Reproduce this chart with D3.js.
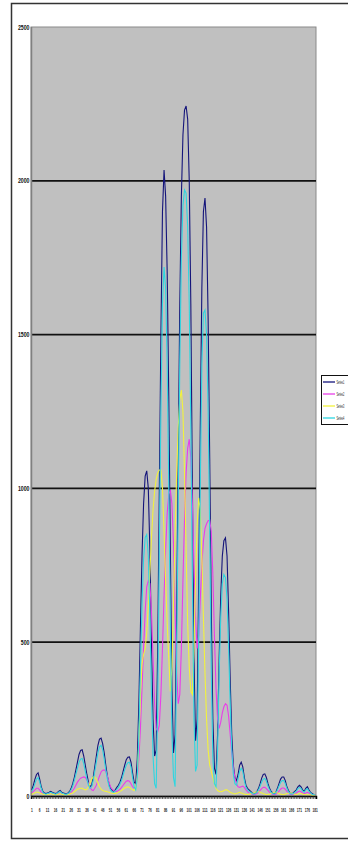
<!DOCTYPE html>
<html><head><meta charset="utf-8">
<script src="https://cdn.jsdelivr.net/npm/d3@7/dist/d3.min.js"></script>
<style>html,body{margin:0;padding:0;background:#fff;overflow:hidden}</style>
</head><body><svg id="c" width="348" height="842"></svg>
<script>
const categories = d3.range(1, 182);
const yTicks = [0, 500, 1000, 1500, 2000, 2500];
const seriesNames = ["Series1", "Series2", "Series3", "Series4"];
const seriesColors = ["#14147a", "#e83ee8", "#f2f23c", "#2ed6e0"];

const series1 = [20,35,55,70,75,55,30,15,10,8,
10,12,15,12,10,8,10,15,18,12,
10,8,6,10,15,25,40,60,85,110,135,148,
150,130,100,70,45,30,35,60,
95,130,165,185,188,170,140,100,65,40,25,18,
15,20,28,35,45,60,80,100,118,126,127,110,75,45,
40,120,300,550,780,950,1040,1057,1000,800,500,250,130,150,
500,1000,1500,1900,2035,1950,1700,1300,800,350,140,200,
600,1100,1600,1950,2150,2230,2243,2200,2000,1600,1000,450,
180,250,700,1200,1650,1900,1944,1850,1550,1100,600,250,
90,70,200,450,650,780,830,839,780,600,380,200,
100,60,50,70,100,110,95,60,35,25,20,15,
10,8,10,15,25,40,58,70,72,60,40,25,
15,10,8,12,25,40,55,62,62,50,30,18,
10,8,10,15,20,30,35,30,20,15,25,30,
20,12,8,5,5];

const series2 = [10,15,20,25,25,20,12,8,5,5,
6,8,10,8,6,5,6,8,10,8,
6,5,5,6,8,12,18,25,35,45,52,58,
60,62,60,52,40,28,20,18,
25,35,50,65,78,84,85,80,65,45,30,22,
18,15,15,18,22,28,35,42,48,50,48,40,30,25,
30,60,120,220,350,480,600,680,700,690,600,450,300,220,
210,230,330,480,650,800,920,980,995,950,820,600,
400,300,330,480,700,900,1050,1130,1160,1100,950,750,
580,480,520,640,750,830,870,885,895,897,860,720,
520,350,250,220,240,270,290,300,295,260,200,140,
90,60,40,30,28,30,32,28,20,14,10,8,
6,5,6,8,12,18,24,28,28,24,18,12,
8,6,5,6,10,16,22,26,26,22,15,10,
6,5,6,8,10,14,16,14,10,8,10,12,
10,6,5,4,4];

const series3 = [5,8,10,12,12,10,8,6,5,5,
5,6,8,6,5,4,5,6,8,6,
5,4,4,5,6,8,10,14,18,22,24,25,
25,22,20,22,30,42,55,62,
62,55,42,30,22,18,16,15,14,12,10,9,
8,8,10,12,15,18,22,26,28,30,28,24,20,18,
30,60,180,330,430,460,480,530,620,730,840,930,990,1030,
1050,1060,1060,1000,860,700,560,450,340,420,620,850,
1050,1200,1290,1320,1250,1050,800,560,420,340,330,480,
700,880,969,930,780,580,400,250,150,100,80,60,
40,25,18,15,14,15,18,20,20,16,12,10,
8,7,8,10,12,10,8,6,5,5,6,7,
8,10,12,14,14,12,10,8,6,5,5,6,
8,10,12,12,10,8,6,5,5,6,8,9,
10,9,8,6,5,6,8,8,6,5,4,4,
4,4,3,3,3];

const series4 = [15,25,40,55,60,45,25,12,8,6,
8,10,12,10,8,6,8,12,14,10,
8,6,5,8,12,20,32,50,70,90,110,120,
122,105,80,55,35,25,30,50,
80,110,140,160,165,150,120,85,55,32,20,14,
12,16,22,28,38,50,68,85,100,108,110,95,60,30,
20,60,200,420,620,770,840,850,780,580,330,130,40,25,
300,800,1250,1600,1720,1650,1400,1000,550,200,60,30,
450,950,1400,1750,1920,1970,1960,1850,1600,1200,700,250,
80,100,500,1000,1400,1570,1580,1500,1250,850,400,120,
40,30,150,400,580,690,720,710,640,480,300,150,
70,40,35,55,80,90,80,50,28,20,15,12,
8,6,8,12,20,32,45,55,57,48,32,20,
12,8,6,10,20,32,44,50,50,40,25,14,
8,6,8,12,16,24,28,24,16,12,20,24,
16,10,6,4,4];

const allSeries = [series1, series2, series3, series4];

const svg = d3.select("#c");
// outer chart border
svg.append("rect").attr("x", 11.5).attr("y", 3.5).attr("width", 345).attr("height", 835)
  .attr("fill", "#fff").attr("stroke", "#333").attr("stroke-width", 1.5);

const L = 31, R = 316, T = 27, B = 796;
const x = d3.scaleBand().domain(categories).range([L, R]).padding(0);
const y = d3.scaleLinear().domain([0, 2500]).range([B, T]);

svg.append("rect").attr("x", L).attr("y", T).attr("width", R - L).attr("height", B - T)
  .attr("fill", "#c0c0c0").attr("stroke", "#8a8a8a").attr("stroke-width", 1);

// gridlines
svg.append("g").selectAll("line").data(yTicks.filter(v => v > 0 && v < 2500)).join("line")
  .attr("x1", L).attr("x2", R).attr("y1", d => y(d)).attr("y2", d => y(d))
  .attr("stroke", "#111").attr("stroke-width", 1.8);

// y axis line
svg.append("line").attr("x1", L + 0.5).attr("x2", L + 0.5).attr("y1", T).attr("y2", B)
  .attr("stroke", "#808080").attr("stroke-width", 1.5);

// y labels
svg.append("g").selectAll("text").data(yTicks).join("text")
  .attr("x", 29.5).attr("y", d => y(d) + 2.5)
  .attr("text-anchor", "end")
  .attr("font-family", "Liberation Sans, Arial, sans-serif")
  .attr("font-size", 7).attr("font-weight", "bold").attr("fill", "#111")
  .attr("textLength", d => String(d).length * 2.9).attr("lengthAdjust", "spacingAndGlyphs")
  .text(d => d);

// lines
const line = d3.line().x((d, i) => x(categories[i]) + x.bandwidth() / 2).y(d => y(d));
svg.append("g").selectAll("path").data(allSeries).join("path")
  .attr("d", d => line(d)).attr("fill", "none")
  .attr("stroke", (d, i) => seriesColors[i]).attr("stroke-width", 1.1);

// x axis comb ticks
const xAxis = d3.axisBottom(x).tickValues(categories).tickSize(3).tickFormat("");
const gx = svg.append("g").attr("transform", `translate(0,${B})`).call(xAxis);
gx.select(".domain").attr("stroke", "#000").attr("stroke-width", 1.5);
gx.selectAll(".tick line").attr("stroke", "#222").attr("stroke-width", 0.7);

// x labels
const labelCats = categories.filter(c => (c - 1) % 5 === 0);
svg.append("g").selectAll("text").data(labelCats).join("text")
  .attr("x", d => x(d) + x.bandwidth() / 2).attr("y", 812)
  .attr("text-anchor", "middle")
  .attr("font-family", "Liberation Sans, Arial, sans-serif")
  .attr("font-size", 5.5).attr("font-weight", "bold").attr("fill", "#222")
  .attr("textLength", d => String(d).length * 1.75).attr("lengthAdjust", "spacingAndGlyphs")
  .text(d => d);

// legend
const lg = svg.append("g");
lg.append("rect").attr("x", 321.5).attr("y", 375.5).attr("width", 40).attr("height", 49)
  .attr("fill", "#fff").attr("stroke", "#111").attr("stroke-width", 1);
seriesNames.forEach((n, i) => {
  const yy = 382 + i * 12;
  lg.append("line").attr("x1", 323).attr("x2", 335).attr("y1", yy).attr("y2", yy)
    .attr("stroke", seriesColors[i]).attr("stroke-width", 1.3);
  lg.append("text").attr("transform", `translate(336.5,${yy + 2}) scale(0.42,1)`)
    .attr("font-size", 5.5)
    .attr("font-family", "Liberation Sans, Arial, sans-serif").attr("fill", "#111")
    .text(n);
});
</script></body></html>
